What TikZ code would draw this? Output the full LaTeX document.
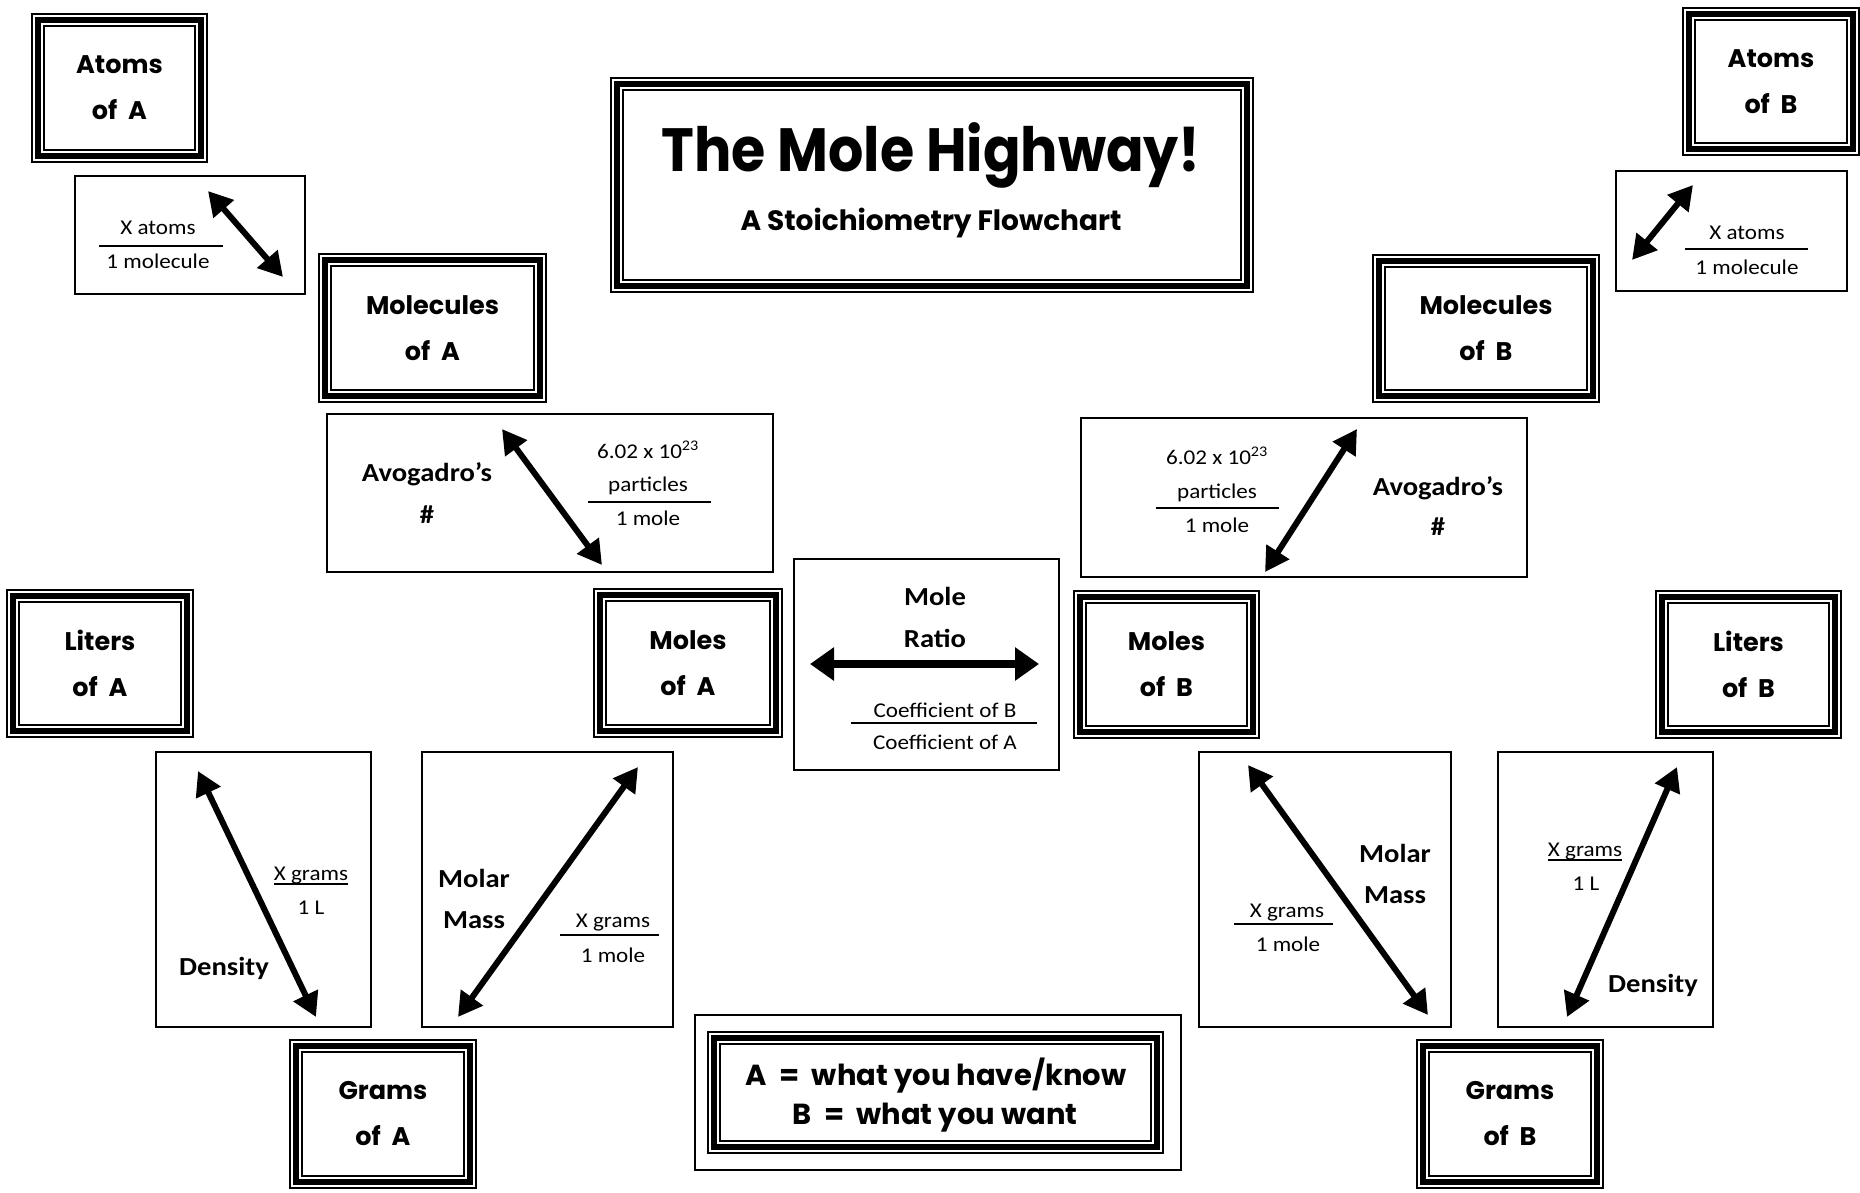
\documentclass[tikz,border=0pt]{standalone}
\usepackage{fontspec}
\setmainfont{Carlito}[FakeStretch=1.1]
\newfontfamily\comic{Poppins}
\usetikzlibrary{arrows.meta}
\tikzset{
  frame/.style={draw, line width=1.6pt, outer sep=0pt, inner sep=0pt, align=center,
    font=\comic\bfseries\fontsize{25.5}{46}\selectfont},
  plain/.style={draw, line width=2pt, outer sep=0pt, inner sep=0pt},
  lbl/.style={inner sep=0pt, anchor=base, font=\bfseries\fontsize{26}{30}\selectfont},
  ftxt/.style={inner sep=0pt, anchor=base, font=\fontsize{21}{25}\selectfont},
  bar/.style={line width=1.5pt},
  dbl/.style={line width=6pt, {Triangle[length=24pt,width=26pt]}-{Triangle[length=24pt,width=26pt]}},
  dblw/.style={line width=8pt, {Triangle[length=24pt,width=32pt]}-{Triangle[length=24pt,width=32pt]}},
}
\newcommand\tripl[1]{%
  \draw[line width=5.5pt] ([shift={(6pt,-6pt)}]#1.north west) rectangle ([shift={(-6pt,6pt)}]#1.south east);
  \draw[line width=1.8pt] ([shift={(12pt,-12pt)}]#1.north west) rectangle ([shift={(-12pt,12pt)}]#1.south east);}
\begin{document}
\begin{tikzpicture}[x=1pt, y=-1pt]
\useasboundingbox (0,0) rectangle (1860,1193);

% ---------- framed nodes ----------
\node[frame, minimum width=175, minimum height=148] (atA) at (119.5,88) {Atoms\\of~~A};
\node[frame, minimum width=227, minimum height=148] (molA) at (432.5,328) {Molecules\\of~~A};
\node[frame, minimum width=188, minimum height=148] (molsA) at (688,663) {Moles\\of~~A};
\node[frame, minimum width=186, minimum height=147] (litA) at (100,663.5) {Liters\\of~~A};
\node[frame, minimum width=186, minimum height=148] (grA) at (383,1114) {Grams\\of~~A};
\node[frame, minimum width=176, minimum height=147] (atB) at (1771,81.5) {Atoms\\of~~B};
\node[frame, minimum width=226, minimum height=147] (molB) at (1486,328.5) {Molecules\\of~~B};
\node[frame, minimum width=185, minimum height=147] (molsB) at (1166.5,664.5) {Moles\\of~~B};
\node[frame, minimum width=185, minimum height=147] (litB) at (1748.5,664.5) {Liters\\of~~B};
\node[frame, minimum width=186, minimum height=148] (grB) at (1510,1114) {Grams\\of~~B};
\node[frame, minimum width=642, minimum height=214] (title) at (932,185) {};
\node[plain, line width=1.6pt, minimum width=486, minimum height=155] (legO) at (938,1092.5) {};
\node[frame, minimum width=455, minimum height=121] (legend) at (935.5,1092.5) {};
\foreach \n in {atA,molA,molsA,litA,grA,atB,molB,molsB,litB,grB,title,legend} {\tripl{\n}}

% ---------- plain boxes ----------
\node[plain, minimum width=230, minimum height=118] (xaA) at (190,235) {};
\node[plain, minimum width=446, minimum height=158] (avA) at (550,493) {};
\node[plain, minimum width=265, minimum height=211] (ratio) at (926.5,664.5) {};
\node[plain, minimum width=446, minimum height=159] (avB) at (1304,497.5) {};
\node[plain, minimum width=231, minimum height=120] (xaB) at (1731.5,231) {};
\node[plain, minimum width=215, minimum height=275] (denA) at (263.5,889.5) {};
\node[plain, minimum width=251, minimum height=275] (mmA) at (547.5,889.5) {};
\node[plain, minimum width=252, minimum height=275] (mmB) at (1325,889.5) {};
\node[plain, minimum width=215, minimum height=275] (denB) at (1605.5,889.5) {};

% ---------- title and legend texts ----------
\node[inner sep=0pt, anchor=base, font=\comic\bfseries\fontsize{55.5}{60}\selectfont] (ttl) at (931,172) {\scalebox{1}[1.1]{The Mole Highway!}};
\node[inner sep=0pt, anchor=base, font=\comic\bfseries\fontsize{28}{30}\selectfont] (sub) at (931,230) {A Stoichiometry Flowchart};
\node[inner sep=0pt, anchor=base, font=\comic\bfseries\fontsize{29}{30}\selectfont] (lg1) at (936,1085) {A~ =~ what you have/know};
\node[inner sep=0pt, anchor=base, font=\comic\bfseries\fontsize{29}{30}\selectfont] (lg2) at (935,1124) {B~ =~ what you want};

% ---------- bold labels ----------
\node[lbl] (avAl1) at (427,481) {Avogadro’s};
\node[lbl] (avAl2) at (427,523) {\#};
\node[lbl] (avBl1) at (1438,495) {Avogadro’s};
\node[lbl] (avBl2) at (1438,535) {\#};
\node[lbl] (mr1) at (935,605) {Mole};
\node[lbl] (mr2) at (935,647) {Ratio};
\node[lbl] (mmA1) at (474,887) {Molar};
\node[lbl] (mmA2) at (474,928) {Mass};
\node[lbl] (mmB1) at (1395,862) {Molar};
\node[lbl] (mmB2) at (1395,903) {Mass};
\node[lbl] (dnA) at (224,975) {Density};
\node[lbl] (dnB) at (1653,992) {Density};

% ---------- fractions ----------
\node[ftxt] (xaAn) at (158,234) {X atoms};
\node[ftxt] (xaAd) at (158,268) {1 molecule};
\draw[bar] (99,246) -- (223,246);
\node[ftxt] (xaBn) at (1747,239) {X atoms};
\node[ftxt] (xaBd) at (1747,274) {1 molecule};
\draw[bar] (1685,249) -- (1808,249);
\node[ftxt] (avAn1) at (648,458) {6.02 x 10\textsuperscript{23}};
\node[ftxt] (avAn2) at (648,491) {particles};
\node[ftxt] (avAd) at (648,525) {1 mole};
\draw[bar] (588,502) -- (711,502);
\node[ftxt] (avBn1) at (1217,464) {6.02 x 10\textsuperscript{23}};
\node[ftxt] (avBn2) at (1217,498) {particles};
\node[ftxt] (avBd) at (1217,532) {1 mole};
\draw[bar] (1156,508) -- (1279,508);
\node[ftxt] (crB) at (945,717) {Coefficient of B};
\node[ftxt] (crA) at (945,749) {Coefficient of A};
\draw[bar] (851,723) -- (1037,723);
\node[ftxt] (mmAn) at (613,927) {X grams};
\node[ftxt] (mmAd) at (613,962) {1 mole};
\draw[bar] (560,935) -- (659,935);
\node[ftxt] (mmBn) at (1287,917) {X grams};
\node[ftxt] (mmBd) at (1288,951) {1 mole};
\draw[bar] (1234,924) -- (1333,924);
\node[ftxt] (dxA) at (311,880) {X grams};
\node[ftxt] (dlA) at (311,914) {1 L};
\draw[bar] ([yshift=-4pt]dxA.base west) -- ([yshift=-4pt]dxA.base east);
\node[ftxt] (dxB) at (1585,856) {X grams};
\node[ftxt] (dlB) at (1586,890) {1 L};
\draw[bar] ([yshift=-4pt]dxB.base west) -- ([yshift=-4pt]dxB.base east);

% ---------- arrows ----------
\coordinate (ea1) at (208,191); \coordinate (ea2) at (283,277);
\coordinate (eb1) at (1693,185); \coordinate (eb2) at (1632,260);
\coordinate (va1) at (502,429); \coordinate (va2) at (602,565);
\coordinate (vb1) at (1357,429); \coordinate (vb2) at (1265,572);
\coordinate (r1) at (810,664); \coordinate (r2) at (1039,664);
\coordinate (da1) at (198,771); \coordinate (da2) at (316,1017);
\coordinate (ma1) at (638,767); \coordinate (ma2) at (458,1017);
\coordinate (mb1) at (1248,765); \coordinate (mb2) at (1428,1015);
\coordinate (db1) at (1677,767); \coordinate (db2) at (1567,1017);
\draw[dbl] (ea1) -- (ea2);
\draw[dbl] (eb1) -- (eb2);
\draw[dbl] (va1) -- (va2);
\draw[dbl] (vb1) -- (vb2);
\draw[dblw] (r1) -- (r2);
\draw[dbl] (da1) -- (da2);
\draw[dbl] (ma1) -- (ma2);
\draw[dbl] (mb1) -- (mb2);
\draw[dbl] (db1) -- (db2);
\end{tikzpicture}
\end{document}
